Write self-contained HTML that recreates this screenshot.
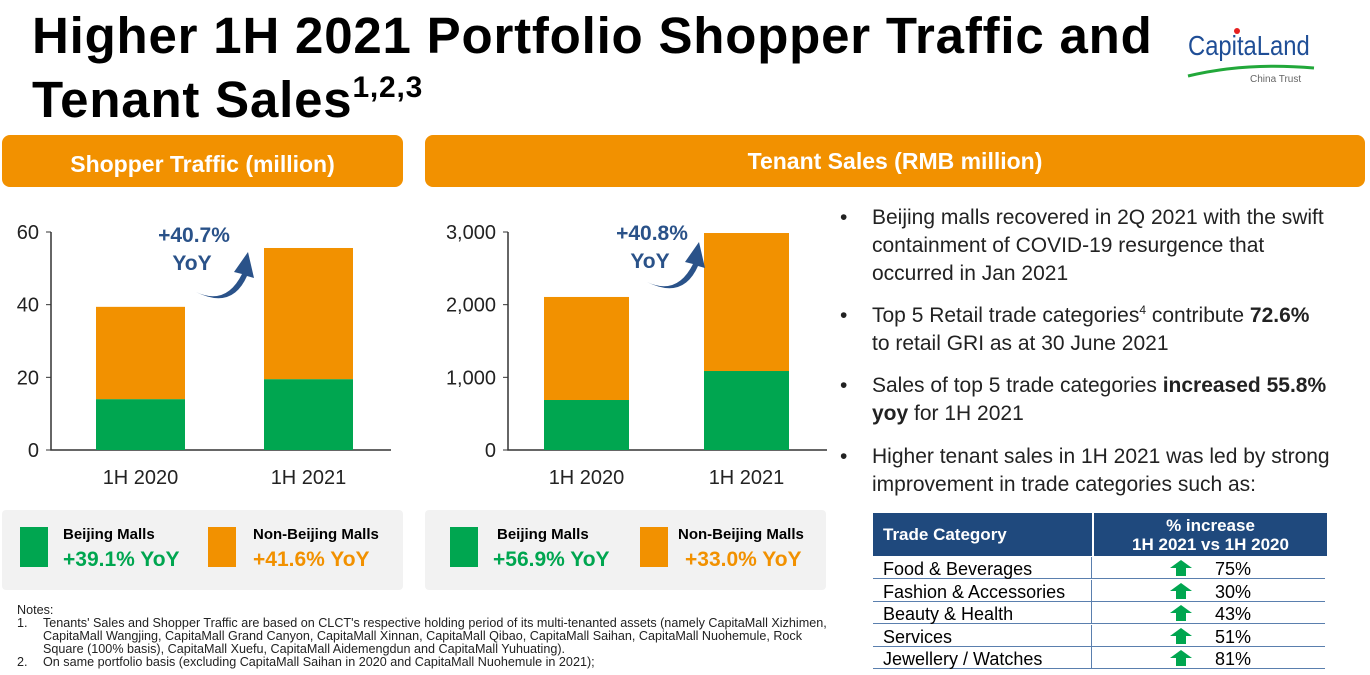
<!DOCTYPE html>
<html><head><meta charset="utf-8"><style>
body{margin:0;width:1370px;height:675px;background:#fff;position:relative;overflow:hidden;font-family:"Liberation Sans",sans-serif}
.a{position:absolute}
.hdr{position:absolute;background:#f29100;color:#fff;font-weight:bold;font-size:23px;text-align:center;border-radius:8px}
.leg{position:absolute;background:#f2f2f2;border-radius:4px}
.b{position:absolute;font-size:21px;color:#222;line-height:28px}
sup{line-height:0}
table{border-collapse:collapse}
</style></head><body>
<div class="a" style="left:32px;top:4px;font-size:51px;font-weight:bold;line-height:64px;color:#000;letter-spacing:0.8px">Higher 1H 2021 Portfolio Shopper Traffic and<br>Tenant Sales<sup style="font-size:30px;vertical-align:20px">1,2,3</sup></div>
<div class="a" style="left:1186px;top:24px;width:130px;height:64px">
<div style="position:absolute;left:2px;top:6px;font-size:28px;color:#1f4e96;transform:scaleX(0.85);transform-origin:left;white-space:nowrap">CapitaLand</div>
<div style="position:absolute;left:48px;top:4px;width:6px;height:6px;border-radius:50%;background:#e62020"></div>
<svg style="position:absolute;left:0;top:38px" width="130" height="16"><path d="M2 14 Q60 0 128 6" stroke="#22a83a" stroke-width="3" fill="none"/></svg>
<div style="position:absolute;left:64px;top:50px;font-size:10px;color:#666">China Trust</div></div>

<div class="hdr" style="left:2px;top:135px;width:401px;height:52px;line-height:58px">Shopper Traffic (million)</div>
<div class="hdr" style="left:425px;top:135px;width:940px;height:52px;line-height:52px">Tenant Sales (RMB million)</div>

<svg class="a" style="left:0;top:0" width="840" height="500" id="charts"></svg>

<div class="leg" style="left:2px;top:510px;width:401px;height:80px">
<div class="a" style="left:18px;top:17px;width:28px;height:40px;background:#00a650"></div>
<div class="a" style="left:61px;top:16px;font-size:15px;font-weight:bold">Beijing Malls</div>
<div class="a" style="left:61px;top:38px;font-size:21px;font-weight:bold;color:#00a650">+39.1% YoY</div>
<div class="a" style="left:206px;top:17px;width:28px;height:40px;background:#f29100"></div>
<div class="a" style="left:251px;top:16px;font-size:15px;font-weight:bold">Non-Beijing Malls</div>
<div class="a" style="left:251px;top:38px;font-size:21px;font-weight:bold;color:#f29100">+41.6% YoY</div></div>
<div class="leg" style="left:425px;top:510px;width:401px;height:80px">
<div class="a" style="left:25px;top:17px;width:28px;height:40px;background:#00a650"></div>
<div class="a" style="left:72px;top:16px;font-size:15px;font-weight:bold">Beijing Malls</div>
<div class="a" style="left:68px;top:38px;font-size:21px;font-weight:bold;color:#00a650">+56.9% YoY</div>
<div class="a" style="left:215px;top:17px;width:28px;height:40px;background:#f29100"></div>
<div class="a" style="left:253px;top:16px;font-size:15px;font-weight:bold">Non-Beijing Malls</div>
<div class="a" style="left:260px;top:38px;font-size:21px;font-weight:bold;color:#f29100">+33.0% YoY</div></div>

<div>
<div class="b" style="left:840px;top:204px">•</div><div class="b" style="left:872px;top:204px">Beijing malls recovered in 2Q 2021 with the swift<br>containment of COVID-19 resurgence that<br>occurred in Jan 2021</div>
<div class="b" style="left:840px;top:302px">•</div><div class="b" style="left:872px;top:302px">Top 5 Retail trade categories<sup style="font-size:12px">4</sup> contribute <b>72.6%</b><br>to retail GRI as at 30 June 2021</div>
<div class="b" style="left:840px;top:372px">•</div><div class="b" style="left:872px;top:372px">Sales of top 5 trade categories <b>increased 55.8%<br>yoy</b> for 1H 2021</div>
<div class="b" style="left:840px;top:443px">•</div><div class="b" style="left:872px;top:443px">Higher tenant sales in 1H 2021 was led by strong<br>improvement in trade categories such as:</div>
</div>

<table class="a" style="left:873px;top:513px;width:454px;font-size:17px">
<tr style="background:#1f497d;color:#fff;font-weight:bold;height:43px"><td style="padding-left:10px;width:208px;border-right:2px solid #fff">Trade Category</td><td style="text-align:center;line-height:19px">% increase<br>1H 2021 vs 1H 2020</td></tr>
</table>
<div id="rows"></div>

<div class="a" style="left:17px;top:604px;font-size:12.6px;line-height:13px;color:#222;white-space:nowrap">Notes:<br>
<span style="display:inline-block;width:26px">1.</span>Tenants' Sales and Shopper Traffic are based on CLCT's respective holding period of its multi-tenanted assets (namely CapitaMall Xizhimen,<br>
<span style="display:inline-block;width:26px"></span>CapitaMall Wangjing, CapitaMall Grand Canyon, CapitaMall Xinnan, CapitaMall Qibao, CapitaMall Saihan, CapitaMall Nuohemule, Rock<br>
<span style="display:inline-block;width:26px"></span>Square (100% basis), CapitaMall Xuefu, CapitaMall Aidemengdun and CapitaMall Yuhuating).<br>
<span style="display:inline-block;width:26px">2.</span>On same portfolio basis (excluding CapitaMall Saihan in 2020 and CapitaMall Nuohemule in 2021);</div>

<script>
const categories=["1H 2020","1H 2021"];
const trafficBeijing=[14,19.5];
const trafficNon=[25.4,36.1];
const trafficTicks=[0,20,40,60];
const salesBeijing=[688,1087];
const salesNon=[1418,1899];
const salesTicks=[0,1000,2000,3000];
const salesTickLabels=["0","1,000","2,000","3,000"];
const tradeCats=["Food & Beverages","Fashion & Accessories","Beauty & Health","Services","Jewellery / Watches"];
const tradeInc=["75%","30%","43%","51%","81%"];

const svg=document.getElementById('charts');
const NS='http://www.w3.org/2000/svg';
function mk(t,a){const e=document.createElementNS(NS,t);for(const k in a)e.setAttribute(k,a[k]);svg.appendChild(e);return e;}
function chart(o){
  const y=v=>o.y0-(v/o.max)*(o.y0-o.y1);
  const ax=mk('path',{d:`M${o.ax} ${o.y1}V${o.y0}H${o.axEnd}`,stroke:'#333','stroke-width':1.5,fill:'none'});
  
  
  o.ticks.forEach((t,i)=>{
    mk('line',{x1:o.ax-5,x2:o.ax,y1:y(t),y2:y(t),stroke:'#333'});
    const tx=mk('text',{x:o.ax-12,y:y(t)+7,'text-anchor':'end','font-size':20,fill:'#222'});
    tx.textContent=o.labels[i];
    
    
  });
  categories.forEach((c,i)=>{
    const x=o.bx[i],w=o.bw;
    const g=mk('rect',{x:x,y:y(o.g[i]),width:w,height:o.y0-y(o.g[i]),fill:'#00a650'});
    
    
    const t=o.g[i]+o.n[i];
    const r=mk('rect',{x:x,y:y(t),width:w,height:y(o.g[i])-y(t),fill:'#f29100'});
    
    
    const l=mk('text',{x:x+w/2,y:o.y0+34,'text-anchor':'middle','font-size':20,fill:'#222'});
    l.textContent=c;
    
    
  });
  const a=o.arrow;
  const p=mk('path',{d:`M0 0 Q30 14 46 -18 L38 -20 L52 -40 L58 -14 L51 -16 Q36 18 0 0 Z`,fill:'#2a5289',transform:`translate(${a[0]},${a[1]})`});
  
  
  [[o.pct,o.lx,o.ly],["YoY",o.lx-2,o.ly+28]].forEach(s=>{
    const t=mk('text',{x:s[1],y:s[2],'text-anchor':'middle','font-size':21,'font-weight':'bold',fill:'#2a5289'});
    t.textContent=s[0];
    
    
  });
}
chart({id:'traffic',ax:51,axEnd:391,y0:450,y1:232,max:60,ticks:trafficTicks,labels:trafficTicks.map(String),g:trafficBeijing,n:trafficNon,bx:[96,264],bw:89,arrow:[196,292],lx:194,ly:242,pct:'+40.7%'});
chart({id:'sales',ax:508,axEnd:827,y0:450,y1:232,max:3000,ticks:salesTicks,labels:salesTickLabels,g:salesBeijing,n:salesNon,bx:[544,704],bw:85,arrow:[647,282],lx:652,ly:240,pct:'+40.8%'});

const rows=document.getElementById('rows');
tradeCats.forEach((c,i)=>{
  const d=document.createElement('div');
  d.className='a';
  
  
  d.style.cssText=`left:873px;top:${557+i*22.6}px;width:452px;height:21px;border-bottom:1.5px solid #5a7fae;font-size:18px;line-height:24px`;
  d.innerHTML=`<span style="position:absolute;left:10px">${c}</span><span style="position:absolute;left:218px;top:0;height:22px;border-left:1.5px solid #5a7fae"></span><svg style="position:absolute;left:297px;top:3px" width="22" height="16"><path d="M11 0L22 8H16V16H6V8H0Z" fill="#00a650"/></svg><span style="position:absolute;left:342px">${tradeInc[i]}</span>`;
  rows.appendChild(d);
});
</script>
</body></html>
